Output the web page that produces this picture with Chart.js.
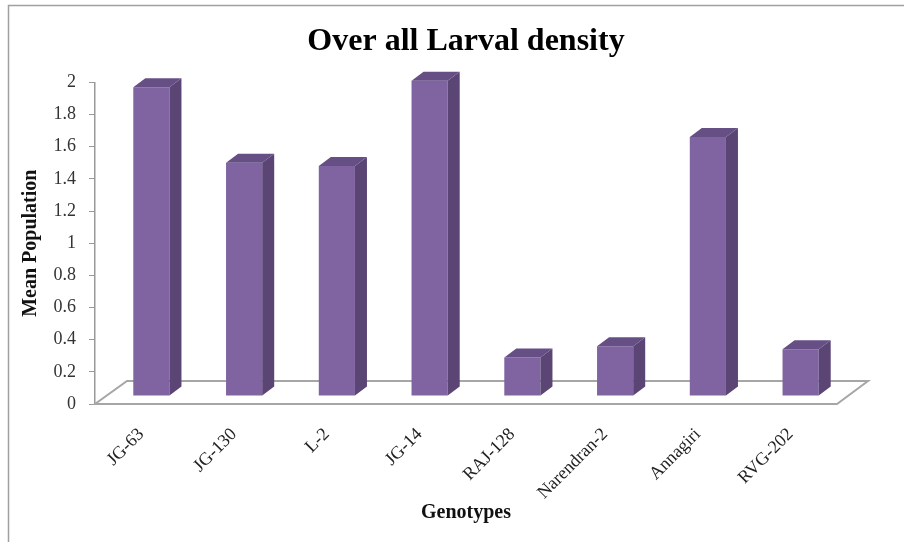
<!DOCTYPE html>
<html>
<head>
<meta charset="utf-8">
<title>Over all Larval density</title>
<script src="https://cdn.jsdelivr.net/npm/chart.js@4.4.1/dist/chart.umd.min.js"></script>
<style>
  html, body { margin: 0; padding: 0; background: #fff; }
  canvas { display: block; }
</style>
</head>
<body>
<canvas id="chart" width="904" height="542"></canvas>
<script>
const genotypes = ["JG-63", "JG-130", "L-2", "JG-14", "RAJ-128", "Narendran-2", "Annagiri", "RVG-202"];
const meanPopulation = [1.92, 1.45, 1.43, 1.96, 0.24, 0.31, 1.61, 0.29];
const yTicks = [0, 0.2, 0.4, 0.6, 0.8, 1, 1.2, 1.4, 1.6, 1.8, 2];

const serif = "'Liberation Serif', 'Times New Roman', serif";

// fake 3D: bars sit a bit back on the floor, and get a side + top face
const shift = { dx: 10, dy: -8 };
const depth = { dx: 12, dy: -9 };
const floor = { dx: 32, dy: -23 };

const box3d = {
  id: "box3d",
  beforeDatasetsDraw(chart) {
    const { ctx, chartArea: a } = chart;
    ctx.save();
    ctx.strokeStyle = "#a6a6a6";
    ctx.lineWidth = 2;
    ctx.beginPath();
    ctx.moveTo(a.left, a.bottom);
    ctx.lineTo(a.right, a.bottom);
    ctx.lineTo(a.right + floor.dx - 1, a.bottom + floor.dy);
    ctx.lineTo(a.left + floor.dx, a.bottom + floor.dy);
    ctx.closePath();
    ctx.stroke();
    ctx.restore();
    ctx.save();
    ctx.translate(shift.dx, shift.dy);
  },
  afterDatasetsDraw(chart) {
    const ctx = chart.ctx;
    chart.getDatasetMeta(0).data.forEach(bar => {
      const { x, y, base, width } = bar.getProps(["x", "y", "base", "width"], true);
      const l = x - width / 2, r = x + width / 2;
      ctx.fillStyle = "#5a4574";
      ctx.beginPath();
      ctx.moveTo(r, y);
      ctx.lineTo(r + depth.dx, y + depth.dy);
      ctx.lineTo(r + depth.dx, base + depth.dy);
      ctx.lineTo(r, base);
      ctx.closePath();
      ctx.fill();
      ctx.fillStyle = "#664f85";
      ctx.beginPath();
      ctx.moveTo(l, y);
      ctx.lineTo(l + depth.dx, y + depth.dy);
      ctx.lineTo(r + depth.dx, y + depth.dy);
      ctx.lineTo(r, y);
      ctx.closePath();
      ctx.fill();
    });
    ctx.restore();
  },
  afterDraw(chart) {
    const ctx = chart.ctx;
    ctx.save();
    ctx.strokeStyle = "#a0a0a0";
    ctx.lineWidth = 1.5;
    ctx.beginPath();
    ctx.moveTo(8.5, 542);
    ctx.lineTo(8.5, 5.5);
    ctx.lineTo(904, 5.5);
    ctx.stroke();
    ctx.restore();
  }
};

new Chart(document.getElementById("chart"), {
  type: "bar",
  data: {
    labels: genotypes,
    datasets: [{
      label: "Mean Population",
      data: meanPopulation,
      backgroundColor: "#8064a2",
      barPercentage: 0.39,
      categoryPercentage: 1,
      clip: false
    }]
  },
  options: {
    responsive: false,
    devicePixelRatio: 1,
    animation: false,
    layout: { padding: { left: 8, right: 67, top: 0, bottom: 0 } },
    plugins: {
      legend: { display: false },
      tooltip: { enabled: false },
      title: {
        display: true,
        fullSize: false,
        text: "Over all Larval density",
        color: "#000",
        font: { family: serif, size: 32, weight: "bold" },
        padding: { top: 23, bottom: 21 }
      }
    },
    scales: {
      x: {
        grid: { display: false },
        border: { display: false },
        ticks: {
          autoSkip: false,
          minRotation: 45,
          maxRotation: 45,
          padding: 12,
          color: "#222",
          font: { family: serif, size: 18 }
        },
        title: {
          display: true,
          text: "Genotypes",
          color: "#111",
          font: { family: serif, size: 20, weight: "bold" },
          padding: { top: 0, bottom: 17 }
        },
        afterFit(scale) { scale.height = 138; }
      },
      y: {
        min: 0,
        max: 2,
        afterBuildTicks(scale) { scale.ticks = yTicks.map(v => ({ value: v })); },
        ticks: {
          color: "#333",
          padding: 13,
          font: { family: serif, size: 18 },
          callback: v => String(+v.toFixed(1))
        },
        grid: { drawOnChartArea: false, drawTicks: true, tickLength: 6, color: "#999" },
        border: { display: true, color: "#999", width: 1.5 },
        title: {
          display: true,
          text: "Mean Population",
          color: "#111",
          font: { family: serif, size: 20, weight: "bold" },
          padding: { top: 11, bottom: 0 }
        },
        afterFit(scale) { scale.width = 87; }
      }
    }
  },
  plugins: [box3d]
});
</script>
</body>
</html>
